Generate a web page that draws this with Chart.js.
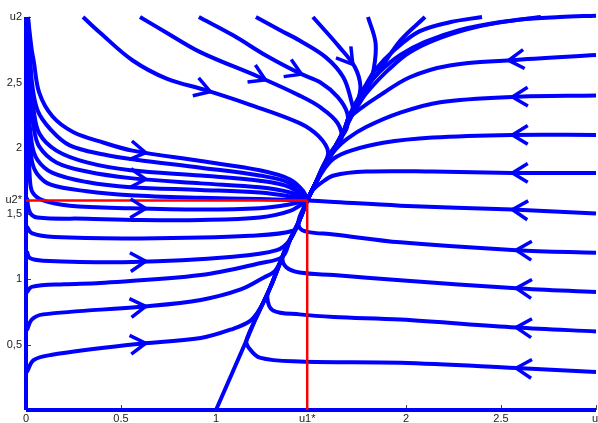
<!DOCTYPE html>
<html>
<head>
<meta charset="UTF-8">
<title>Phase portrait</title>
<script src="https://cdn.jsdelivr.net/npm/chart.js@4.4.1/dist/chart.umd.min.js"></script>
<style>
*{margin:0;padding:0}
body{background:#fff;width:598px;height:423px;overflow:hidden}
#wrap{position:relative;width:598px;height:423px}
</style>
</head>
<body>
<div id="wrap"><canvas id="c"></canvas></div>
<script>
// equilibrium
const u1Star = 1.48, u2Star = 1.6;

// axis ticks
const xTicks = [0, 0.5, 1, u1Star, 2, 2.5, 3];
const xTickLabels = ['0', '0.5', '1', 'u1*', '2', '2.5', "u'"];
const yTicks = [0.5, 1, 1.5, u2Star, 2, 2.5, 3];
const yTickLabels = ['0,5', '1', '1,5', 'u2*', '2', '2,5', 'u2'];

// invariant axes and the slow manifold through the equilibrium
const axisU1 = [[0, 0], [3, 0]];
const axisU2 = [[0, 0], [0, 3]];
const manifold = [[1.0, 0], [1.16, 0.53], [1.21, 0.7], [1.29, 0.95], [1.35, 1.17], [1.39, 1.3], [1.44, 1.45], [1.48, 1.6]];

// trajectories coming down the u2 axis (left fan)
const F1 = [[0.01, 3.0], [0.03, 2.75], [0.04, 2.67], [0.07, 2.42], [0.14, 2.24], [0.25, 2.12], [0.41, 2.04], [0.56, 1.98], [0.92, 1.9], [1.23, 1.83], [1.39, 1.76], [1.46, 1.67], [1.48, 1.6]];
const F2 = [[0.01, 3.0], [0.02, 2.8], [0.03, 2.52], [0.06, 2.29], [0.13, 2.14], [0.23, 2.02], [0.41, 1.95], [0.58, 1.91], [0.92, 1.85], [1.23, 1.79], [1.39, 1.73], [1.48, 1.6]];
const F3 = [[0.01, 3.0], [0.015, 2.6], [0.04, 2.29], [0.07, 2.11], [0.16, 1.98], [0.32, 1.89], [0.55, 1.83], [0.92, 1.79], [1.23, 1.75], [1.39, 1.7], [1.48, 1.6]];
const F4 = [[0.01, 3.0], [0.015, 2.5], [0.04, 2.16], [0.07, 2.01], [0.16, 1.89], [0.32, 1.82], [0.55, 1.77], [0.92, 1.73], [1.23, 1.7], [1.39, 1.66], [1.48, 1.6]];
const F5 = [[0.01, 3.0], [0.01, 2.4], [0.03, 2.04], [0.06, 1.91], [0.14, 1.81], [0.32, 1.74], [0.55, 1.7], [0.92, 1.68], [1.23, 1.66], [1.39, 1.63], [1.48, 1.6]];
const F6 = [[0.01, 3.0], [0.01, 2.3], [0.03, 1.91], [0.06, 1.8], [0.13, 1.72], [0.32, 1.67], [0.55, 1.64], [0.92, 1.62], [1.23, 1.61], [1.48, 1.6]];
const F7 = [[0.01, 3.0], [0.01, 2.2], [0.02, 1.77], [0.035, 1.66], [0.09, 1.6], [0.23, 1.56], [0.55, 1.54], [0.92, 1.53], [1.23, 1.54], [1.39, 1.57], [1.48, 1.6]];

// trajectories starting on the u2 axis below the equilibrium
const G1 = [[0.005, 1.62], [0.02, 1.51], [0.06, 1.47], [0.32, 1.46], [0.6, 1.45], [0.92, 1.45], [1.23, 1.47], [1.39, 1.52], [1.48, 1.6]];
const C5 = [[0.005, 1.4], [0.03, 1.35], [0.15, 1.32], [0.6, 1.31], [1.18, 1.33], [1.41, 1.37], [1.44, 1.45], [1.48, 1.6]];
const C4 = [[0.005, 1.21], [0.02, 1.16], [0.09, 1.14], [0.56, 1.13], [1.09, 1.17], [1.32, 1.22], [1.39, 1.3], [1.44, 1.45], [1.48, 1.6]];
const C3 = [[0.005, 0.9], [0.03, 0.94], [0.2, 0.96], [0.39, 0.97], [0.92, 1.03], [1.23, 1.12], [1.35, 1.17], [1.39, 1.3], [1.44, 1.45], [1.48, 1.6]];
const C2 = [[0.005, 0.61], [0.03, 0.69], [0.09, 0.73], [0.62, 0.79], [0.92, 0.84], [1.13, 0.92], [1.25, 1.01], [1.31, 1.06], [1.35, 1.17], [1.39, 1.3], [1.44, 1.45], [1.48, 1.6]];
const C1 = [[0.005, 0.29], [0.04, 0.38], [0.13, 0.42], [0.56, 0.5], [0.92, 0.55], [1.09, 0.62], [1.18, 0.68], [1.23, 0.77], [1.29, 0.95], [1.35, 1.17], [1.39, 1.3], [1.44, 1.45], [1.48, 1.6]];

// trajectories entering from the top edge
const S1 = [[0.3, 3.0], [0.39, 2.88], [0.56, 2.67], [0.74, 2.53], [0.95, 2.44], [1.18, 2.33], [1.44, 2.19], [1.54, 2.09], [1.59, 1.97], [1.56, 1.85], [1.52, 1.72], [1.48, 1.6]];
const S2 = [[0.6, 3.0], [0.74, 2.88], [0.92, 2.73], [1.23, 2.54], [1.44, 2.4], [1.55, 2.31], [1.64, 2.19], [1.66, 2.06], [1.61, 1.96], [1.56, 1.85], [1.52, 1.72], [1.48, 1.6]];
const S3 = [[0.91, 3.0], [1.09, 2.86], [1.27, 2.7], [1.44, 2.57], [1.55, 2.5], [1.64, 2.39], [1.69, 2.27], [1.69, 2.16], [1.65, 2.06], [1.61, 1.98], [1.56, 1.85], [1.52, 1.72], [1.48, 1.6]];
const S4 = [[1.21, 3.0], [1.35, 2.89], [1.44, 2.82], [1.58, 2.69], [1.67, 2.54], [1.71, 2.37], [1.72, 2.27], [1.67, 2.13], [1.62, 1.99], [1.57, 1.86], [1.52, 1.72], [1.48, 1.6]];
const S5 = [[1.51, 3.0], [1.65, 2.77], [1.73, 2.62], [1.76, 2.47], [1.74, 2.33], [1.71, 2.24], [1.67, 2.12], [1.62, 1.99], [1.57, 1.86], [1.52, 1.72], [1.48, 1.6]];
const S6 = [[1.8, 3.0], [1.84, 2.8], [1.83, 2.6], [1.8, 2.46], [1.75, 2.33], [1.71, 2.24], [1.67, 2.12], [1.62, 1.99], [1.57, 1.86], [1.52, 1.72], [1.48, 1.6]];
const S7 = [[2.1, 3.0], [1.97, 2.82], [1.85, 2.57], [1.79, 2.46], [1.74, 2.33], [1.71, 2.24], [1.67, 2.12], [1.62, 1.99], [1.57, 1.86], [1.52, 1.72], [1.48, 1.6]];
const T1 = [[2.4, 3.0], [2.23, 2.96], [2.07, 2.89], [1.94, 2.75], [1.84, 2.6], [1.78, 2.46], [1.73, 2.33], [1.7, 2.24], [1.67, 2.12], [1.62, 1.99], [1.57, 1.86], [1.52, 1.72], [1.48, 1.6]];
const T2 = [[2.71, 3.0], [2.49, 2.96], [2.28, 2.9], [2.1, 2.81], [1.97, 2.71], [1.86, 2.58], [1.79, 2.46], [1.74, 2.33], [1.7, 2.24], [1.67, 2.12], [1.62, 1.99], [1.57, 1.86], [1.52, 1.72], [1.48, 1.6]];
const T3 = [[3.0, 3.01], [2.81, 3.0], [2.6, 2.98], [2.39, 2.93], [2.18, 2.84], [2.02, 2.73], [1.91, 2.6], [1.81, 2.45], [1.74, 2.32], [1.7, 2.24], [1.67, 2.12], [1.62, 1.99], [1.57, 1.86], [1.52, 1.72], [1.48, 1.6]];

// trajectories entering from the right edge
const R1 = [[3.0, 2.71], [2.55, 2.67], [2.23, 2.63], [2.02, 2.54], [1.85, 2.39], [1.76, 2.3], [1.71, 2.24], [1.67, 2.12], [1.62, 1.99], [1.57, 1.86], [1.52, 1.72], [1.48, 1.6]];
const R2 = [[3.0, 2.4], [2.56, 2.39], [2.18, 2.35], [1.97, 2.27], [1.79, 2.16], [1.69, 2.07], [1.63, 1.99], [1.57, 1.86], [1.52, 1.72], [1.48, 1.6]];
const R3 = [[3.0, 2.1], [2.56, 2.1], [2.14, 2.08], [1.88, 2.04], [1.71, 1.98], [1.62, 1.92], [1.57, 1.84], [1.52, 1.72], [1.48, 1.6]];
const R4 = [[3.0, 1.81], [2.56, 1.81], [2.14, 1.82], [1.79, 1.82], [1.62, 1.79], [1.55, 1.73], [1.51, 1.68], [1.48, 1.6]];
const R5 = [[3.0, 1.5], [2.56, 1.53], [1.97, 1.56], [1.6, 1.59], [1.48, 1.6]];
const R6 = [[3.0, 1.2], [2.58, 1.22], [1.97, 1.28], [1.62, 1.34], [1.48, 1.36], [1.44, 1.39], [1.435, 1.45], [1.46, 1.54], [1.48, 1.6]];
const R7 = [[3.0, 0.9], [2.58, 0.93], [1.97, 0.99], [1.62, 1.03], [1.44, 1.05], [1.37, 1.09], [1.35, 1.17], [1.39, 1.3], [1.44, 1.45], [1.48, 1.6]];
const R8 = [[3.0, 0.6], [2.58, 0.63], [1.97, 0.69], [1.62, 0.71], [1.44, 0.73], [1.3, 0.76], [1.27, 0.86], [1.29, 0.95], [1.35, 1.17], [1.39, 1.3], [1.44, 1.45], [1.48, 1.6]];
const R9 = [[3.0, 0.29], [2.58, 0.32], [1.97, 0.36], [1.44, 0.37], [1.23, 0.4], [1.17, 0.48], [1.16, 0.53], [1.21, 0.7], [1.29, 0.95], [1.35, 1.17], [1.39, 1.3], [1.44, 1.45], [1.48, 1.6]];

// red guide lines to the equilibrium
const guideH = [[0, u2Star], [u1Star, u2Star]];
const guideV = [[u1Star, 0], [u1Star, u2Star]];

// direction arrows: [trajectory, u1 where the tip sits]
const arrows = [
  ['F1', 0.63], ['F4', 0.63], ['F7', 0.63], ['C4', 0.63], ['C2', 0.63], ['C1', 0.63],
  ['S1', 0.97], ['S2', 1.26], ['S3', 1.45], ['S5', 1.72],
  ['R1', 2.54], ['R2', 2.56], ['R3', 2.56], ['R4', 2.56], ['R5', 2.56],
  ['R6', 2.58], ['R7', 2.58], ['R8', 2.58], ['R9', 2.58]
];

const traj = { axisU1, axisU2, manifold, F1, F2, F3, F4, F5, F6, F7, G1, C1, C2, C3, C4, C5,
  S1, S2, S3, S4, S5, S6, S7, T1, T2, T3, R1, R2, R3, R4, R5, R6, R7, R8, R9 };

const blue = '#0000ff', red = '#ff0000';
const toXY = arr => arr.map(p => ({ x: p[0], y: p[1] }));

const datasets = Object.keys(traj).map(k => ({
  label: k,
  data: toXY(traj[k]),
  borderColor: blue,
  borderWidth: 4,
  tension: k.startsWith('axis') ? 0 : 0.35,
  order: 1
}));
datasets.push(
  { label: 'u2*', data: toXY(guideH), borderColor: red, borderWidth: 2.5, tension: 0, order: 0 },
  { label: 'u1*', data: toXY(guideV), borderColor: red, borderWidth: 2.5, tension: 0, order: 0 }
);

const innerTicks = {
  id: 'innerTicks',
  beforeDatasetsDraw(chart) {
    const { ctx, chartArea: a, scales: { x, y } } = chart;
    ctx.save();
    ctx.strokeStyle = '#444';
    ctx.lineWidth = 1;
    ctx.beginPath();
    xTicks.forEach(v => { const px = Math.round(x.getPixelForValue(v)) + 0.5; ctx.moveTo(px, a.bottom); ctx.lineTo(px, a.bottom - 5); });
    yTicks.forEach(v => { const py = Math.round(y.getPixelForValue(v)) + 0.5; ctx.moveTo(a.left, py); ctx.lineTo(a.left + 5, py); });
    ctx.stroke();
    ctx.restore();
  }
};

const arrowHeads = {
  id: 'arrowHeads',
  afterDatasetsDraw(chart) {
    const { ctx, scales: { x, y } } = chart;
    ctx.save();
    ctx.strokeStyle = blue;
    ctx.lineWidth = 3.5;
    ctx.lineJoin = 'miter';
    arrows.forEach(([name, at]) => {
      const pts = traj[name];
      for (let i = 0; i < pts.length - 1; i++) {
        const [a0, b0] = pts[i], [a1, b1] = pts[i + 1];
        if ((at - a0) * (at - a1) > 0 || a0 === a1) continue;
        const t = (at - a0) / (a1 - a0);
        const px = x.getPixelForValue(at), py = y.getPixelForValue(b0 + t * (b1 - b0));
        const ang = Math.atan2(y.getPixelForValue(b1) - y.getPixelForValue(b0), x.getPixelForValue(a1) - x.getPixelForValue(a0));
        const len = 18, spread = 0.55;
        ctx.beginPath();
        ctx.moveTo(px - len * Math.cos(ang - spread), py - len * Math.sin(ang - spread));
        ctx.lineTo(px, py);
        ctx.lineTo(px - len * Math.cos(ang + spread), py - len * Math.sin(ang + spread));
        ctx.stroke();
        break;
      }
    });
    ctx.restore();
  }
};

const font = { family: "'Liberation Sans', Arial, sans-serif", size: 11 };

new Chart(document.getElementById('c'), {
  type: 'scatter',
  data: { datasets },
  options: {
    responsive: true,
    maintainAspectRatio: false,
    animation: false,
    showLine: true,
    clip: false,
    elements: { point: { radius: 0, hoverRadius: 0 }, line: { fill: false, capBezierPoints: true } },
    layout: { padding: { top: 17, right: 2, left: 0, bottom: 0 } },
    plugins: { legend: { display: false }, tooltip: { enabled: false } },
    scales: {
      x: {
        type: 'linear', min: 0, max: 3,
        afterBuildTicks: s => { s.ticks = xTicks.map(v => ({ value: v })); },
        afterFit: s => { s.height = 13; s.paddingLeft = 0; s.paddingRight = 0; },
        ticks: { callback: (v, i) => xTickLabels[i], autoSkip: false, maxRotation: 0, padding: 2, font, color: '#1a1a1a' },
        grid: { display: false, drawTicks: false },
        border: { display: false }
      },
      y: {
        type: 'linear', min: 0, max: 3,
        afterBuildTicks: s => { s.ticks = yTicks.map(v => ({ value: v })); },
        afterFit: s => { s.width = 26; s.paddingTop = 0; s.paddingBottom = 0; },
        ticks: { callback: (v, i) => yTickLabels[i], autoSkip: false, padding: 4, font, color: '#1a1a1a' },
        grid: { display: false, drawTicks: false },
        border: { display: false }
      }
    }
  },
  plugins: [innerTicks, arrowHeads]
});
</script>
</body>
</html>
